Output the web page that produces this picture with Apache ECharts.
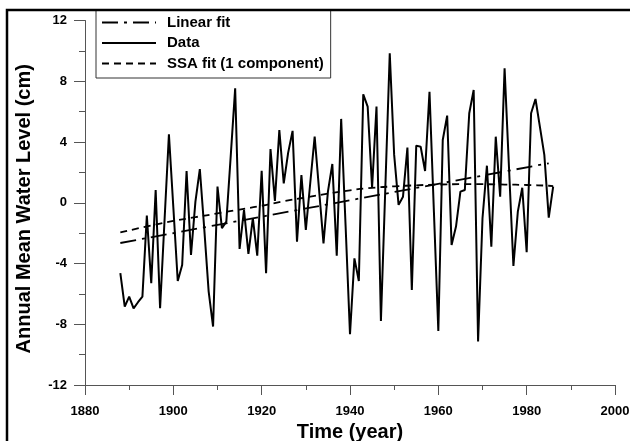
<!DOCTYPE html>
<html><head><meta charset="utf-8">
<script src="https://cdn.jsdelivr.net/npm/echarts@6/dist/echarts.min.js"></script>
<style>html,body{margin:0;padding:0;background:#fff}#c{width:630px;height:441px}</style>
</head><body><div id="c"></div>
<script>
const years = [1888,1889,1890,1891,1892,1893,1894,1895,1896,1897,1898,1899,
1900,1901,1902,1903,1904,1905,1906,1907,1908,1909,
1910,1911,1912,1913,1914,1915,1916,1917,1918,1919,
1920,1921,1922,1923,1924,1925,1926,1927,1928,1929,
1930,1931,1932,1933,1934,1935,1936,1937,1938,1939,
1940,1941,1942,1943,1944,1945,1946,1947,1948,1949,
1950,1951,1952,1953,1954,1955,1956,1957,1958,1959,
1960,1961,1962,1963,1964,1965,1966,1967,1968,1969,
1970,1971,1972,1973,1974,1975,1976,1977,1978,1979,
1980,1981,1982,1983,1984,1985,1986];
const dataValues = [-4.64,-6.84,-6.18,-6.95,-6.55,-6.18,-0.85,-5.3,0.84,-6.95,-1.2,4.5,
-0.3,-5.15,-4.1,2.09,-3.44,0.07,2.22,-1.7,-5.85,-8.15,
1.06,-1.68,-1.24,3.1,7.54,-3.04,-0.47,-3.37,-1.02,-3.48,
2.11,-4.64,3.54,0.12,4.79,1.28,3.3,4.73,-2.56,1.83,
-1.79,1.3,4.35,0.84,-2.67,0.73,2.55,-3.48,5.52,-1.5,
-8.66,-3.66,-5.15,7.14,6.33,0.99,6.33,-7.78,1.0,9.84,
3.15,-0.14,0.4,3.63,-5.74,3.76,3.69,2.09,7.31,-0.6,
-8.44,4.13,5.74,-2.78,-1.57,0.73,0.84,5.89,7.43,-9.14,
-1.02,2.44,-2.89,4.35,0.4,8.85,2.3,-4.16,-0.58,0.99,
-3.26,5.89,6.83,5.0,3.15,-0.98,1.06];
const linearYears = [1888, 1985];
const linearValues = [-2.65, 2.6];
const ssaYears = [1888,1895,1900,1905,1910,1915,1920,1925,1930,1935,1940,1945,1950,1955,1960,1965,1970,1975,1980,1985,1986];
const ssaValues = [-1.95,-1.5,-1.2,-0.95,-0.7,-0.45,-0.2,0.1,0.35,0.6,0.82,0.98,1.08,1.15,1.2,1.22,1.22,1.2,1.17,1.12,1.1];
const xTicks = {min:1880, max:2000, step:20};
const yTicks = {min:-12, max:12, step:4};

const zip = (a,b) => a.map((v,i)=>[v,b[i]]);
const FONT = 'Liberation Sans, Arial, sans-serif';
const chart = echarts.init(document.getElementById('c'), null, {renderer:'canvas'});
const axisCommon = {
  axisLine:{show:true, onZero:false, lineStyle:{color:'#555', width:1}},
  splitLine:{show:false},
  nameTextStyle:{fontFamily:FONT, fontWeight:'bold', fontSize:20, color:'#000'}
};
chart.setOption({
  animation:false,
  backgroundColor:'#fff',
  grid:{left:85, right:15, top:20.5, bottom:56, containLabel:false, outerBoundsMode:'none'},
  graphic:[{type:'rect', z:100, shape:{x:7, y:10, width:700, height:500}, style:{fill:'none', stroke:'#000', lineWidth:2.5}}],
  legend:{
    left:96, top:10, orient:'vertical', itemWidth:54, itemHeight:14, itemGap:5.5,
    padding:[5,7,7,5], borderColor:'#333', borderWidth:1,
    itemStyle:{opacity:0},
    textStyle:{fontFamily:FONT, fontWeight:'bold', fontSize:15, color:'#000', padding:[0,0,0,6]},
    data:['Linear fit','Data','SSA fit (1 component)']
  },
  xAxis:Object.assign({}, axisCommon, {
    type:'value', min:xTicks.min, max:xTicks.max, interval:xTicks.step,
    axisTick:{show:true, length:10, lineStyle:{color:'#555'}},
    minorTick:{show:true, splitNumber:2, length:5, lineStyle:{color:'#555'}},
    axisLabel:{fontFamily:FONT, fontWeight:'bold', fontSize:13, color:'#000', margin:20, formatter:v=>String(v)},
    name:'Time (year)', nameLocation:'middle', nameGap:36
  }),
  yAxis:Object.assign({}, axisCommon, {
    type:'value', min:yTicks.min, max:yTicks.max, interval:yTicks.step,
    axisTick:{show:true, length:11, lineStyle:{color:'#555'}},
    minorTick:{show:true, splitNumber:2, length:6, lineStyle:{color:'#555'}},
    axisLabel:{fontFamily:FONT, fontWeight:'bold', fontSize:13, color:'#000', margin:18},
    name:'Annual Mean Water Level (cm)', nameLocation:'middle', nameGap:51,
    nameTextStyle:{fontFamily:FONT, fontWeight:'bold', fontSize:20, color:'#000', padding:[0,12,0,0]}
  }),
  series:[
    {name:'Linear fit', type:'line', data:zip(linearYears, linearValues), symbol:'none',
     lineStyle:{color:'#000', width:1.8, type:[16,6,3,6]}, z:3},
    {name:'Data', type:'line', data:zip(years, dataValues), symbol:'none',
     lineStyle:{color:'#000', width:2}, z:2},
    {name:'SSA fit (1 component)', type:'line', data:zip(ssaYears, ssaValues), symbol:'none', smooth:true,
     lineStyle:{color:'#000', width:1.8, type:[7,5]}, z:3}
  ]
});
</script></body></html>
